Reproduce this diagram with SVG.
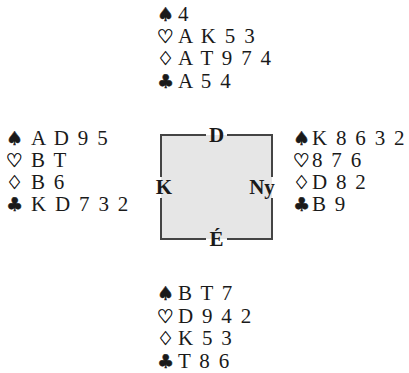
<svg xmlns="http://www.w3.org/2000/svg" width="409" height="373" viewBox="0 0 409 373">
<style>
.s{font-family:"DejaVu Sans",sans-serif;font-size:19px;font-weight:bold;fill:#1a1a1a;stroke:#1a1a1a;stroke-width:0.5}
.c{font-family:"Liberation Serif",serif;font-size:21px;fill:#1a1a1a;letter-spacing:1.8px}
.l{font-family:"Liberation Serif",serif;font-size:21px;font-weight:bold;fill:#1a1a1a;text-anchor:middle}
.b{fill:none;stroke:#444;stroke-width:2}
</style>
<rect width="409" height="373" fill="#fff"/>
<g id="table">
<rect x="161" y="135" width="111" height="104" fill="#e6e6e6"/>
<path class="b" d="M206,135 H161 V177 M161,198 V239 H206 M227,239 H272 V198 M272,177 V135 H227"/>
<text class="l" x="216.5" y="142">D</text>
<text class="l" x="216.5" y="246">É</text>
<text class="l" x="164" y="194">K</text>
<text class="l" x="262" y="194">Ny</text>
</g>
<g id="north">
<text class="s" x="157" y="21">♠</text><text class="c" x="178" y="21">4</text>
<text class="s" x="157" y="43">♡</text><text class="c" x="178" y="43">A K 5 3</text>
<text class="s" x="157" y="65">♢</text><text class="c" x="178" y="65">A T 9 7 4</text>
<text class="s" x="157" y="88">♣</text><text class="c" x="178" y="88">A 5 4</text>
</g>
<g id="west">
<text class="s" x="6" y="145">♠</text><text class="c" x="31" y="145">A D 9 5</text>
<text class="s" x="6" y="167">♡</text><text class="c" x="31" y="167">B T</text>
<text class="s" x="6" y="189">♢</text><text class="c" x="31" y="189">B 6</text>
<text class="s" x="6" y="211">♣</text><text class="c" x="31" y="211">K D 7 3 2</text>
</g>
<g id="east">
<text class="s" x="293" y="145">♠</text><text class="c" x="312" y="145">K 8 6 3 2</text>
<text class="s" x="293" y="167">♡</text><text class="c" x="312" y="167">8 7 6</text>
<text class="s" x="293" y="189">♢</text><text class="c" x="312" y="189">D 8 2</text>
<text class="s" x="293" y="211">♣</text><text class="c" x="312" y="211">B 9</text>
</g>
<g id="south">
<text class="s" x="157" y="300">♠</text><text class="c" x="178" y="300">B T 7</text>
<text class="s" x="157" y="323">♡</text><text class="c" x="178" y="323">D 9 4 2</text>
<text class="s" x="157" y="345">♢</text><text class="c" x="178" y="345">K 5 3</text>
<text class="s" x="157" y="368">♣</text><text class="c" x="178" y="368">T 8 6</text>
</g>
<g id="connectors"></g>
</svg>
